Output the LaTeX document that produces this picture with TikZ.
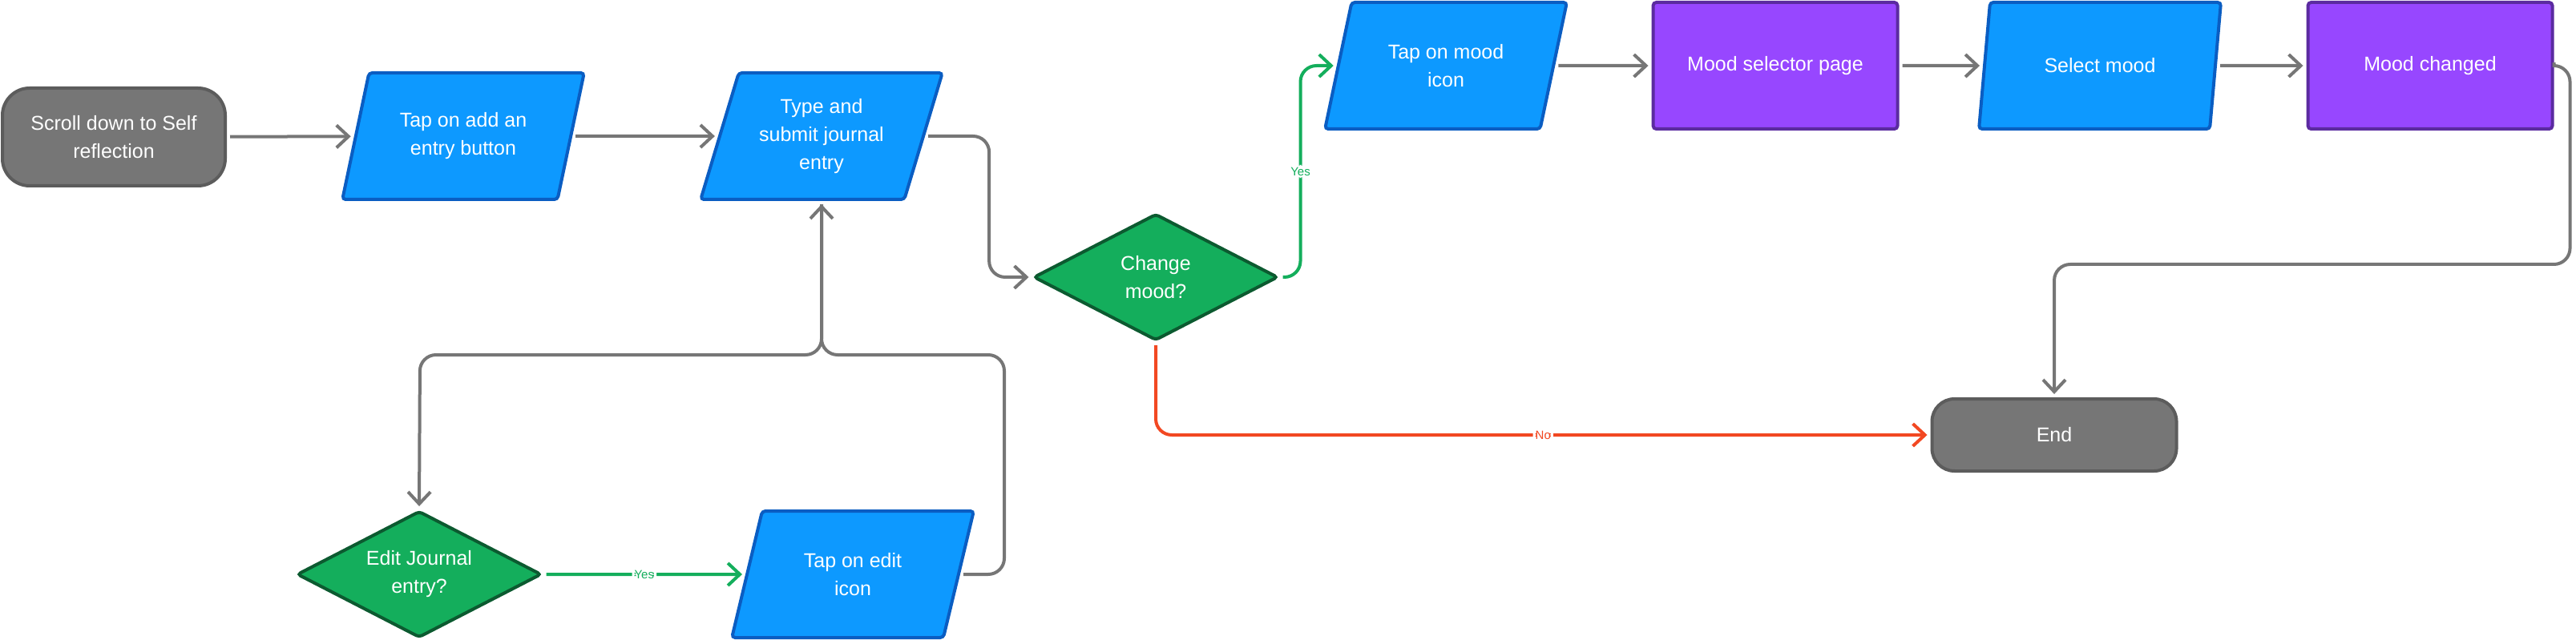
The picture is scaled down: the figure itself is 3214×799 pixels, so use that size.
\documentclass[tikz,border=0pt]{standalone}
\usepackage{fontspec}
\setmainfont{Liberation Sans}
\usetikzlibrary{shapes.geometric, arrows.meta, positioning}
\definecolor{iofill}{HTML}{0D99FF}
\definecolor{ioline}{HTML}{0A5DC2}
\definecolor{pagefill}{HTML}{9747FF}
\definecolor{pageline}{HTML}{5B2BA0}
\definecolor{askfill}{HTML}{14AE5C}
\definecolor{askline}{HTML}{0C5A30}
\definecolor{termfill}{HTML}{767676}
\definecolor{termline}{HTML}{5C5C5C}
\definecolor{flowgray}{HTML}{767676}
\definecolor{flowgreen}{HTML}{14AE5C}
\definecolor{flowred}{HTML}{F24822}
\begin{document}
\begin{tikzpicture}[x=1pt, y=-1pt,
  every node/.style={text=white, font=\fontsize{25}{35}\selectfont, align=center},
  term/.style={draw=termline, fill=termfill, line width=4pt, rounded corners=34pt, minimum width=278pt, minimum height=122pt},
  io/.style={trapezium, trapezium left angle=69, trapezium right angle=111, trapezium stretches=true, draw=ioline, fill=iofill, line width=4pt, rounded corners=4pt, minimum width=302pt, minimum height=158pt, inner sep=0pt},
  page/.style={rectangle, draw=pageline, fill=pagefill, line width=4pt, rounded corners=4pt, minimum width=305pt, minimum height=158pt},
  ask/.style={diamond, aspect=2, draw=askline, fill=askfill, line width=4pt, rounded corners=4pt, minimum width=305pt, minimum height=158pt, inner sep=0pt},
  flow/.style={draw=flowgray, line width=4pt, rounded corners=20pt, shorten >=4pt, shorten <=4pt, -{Straight Barb[length=15pt, width=28pt, line width=4pt]}},
  tag/.style={fill=white, inner sep=3pt, font=\fontsize{15}{18}\selectfont}
]
\useasboundingbox (0,0) rectangle (3214,799);

\node[term] (start) at (142,171) {Scroll down to Self\\reflection};
\node[io] (tapadd) at (578,170) {Tap on add an\\entry button};
\node[io] (type) at (1025,170) {Type and\\submit journal\\entry};
\node[ask] (mood) at (1442,346) {Change\\mood?};
\node[io] (tapmood) at (1804,82) {Tap on mood\\icon};
\node[page] (selpage) at (2215,82) {Mood selector page};
\node[io] (select) at (2620,82) {Select mood};
\node[page] (changed) at (3032,82) {Mood changed};
\node[term, minimum width=305pt, minimum height=90pt, rounded corners=28pt] (end) at (2563,543) {End};
\node[ask] (edit) at (523,717) {Edit Journal\\entry?};
\node[io] (tapedit) at (1064,717) {Tap on edit\\icon};

\coordinate (jleft) at (524,443);
\coordinate (jright) at (1253,443);

\draw[flow] (start) -- (tapadd);
\draw[flow] (tapadd) -- (type);
\draw[flow] (type.east) -- ++(80,0) |- (mood.west);
\draw[flow, draw=flowgreen] (mood.east) -- ++(26,0) |- (tapmood.west) node[tag, text=flowgreen, pos=0.25] {Yes};
\draw[flow] (tapmood) -- (selpage);
\draw[flow] (selpage) -- (select);
\draw[flow] (select) -- (changed);
\draw[flow] (changed.east) -- ++(20,0) -- ++(0,248) -| (end.north);
\draw[flow, draw=flowred] (mood.south) |- (end.west) node[tag, text=flowred, pos=0.75] {No};
\draw[flow] (type.south) |- (jleft) -- (edit.north);
\draw[flow, draw=flowgreen] (edit.east) -- (tapedit.west) node[tag, text=flowgreen, midway] {Yes};
\draw[flow] (tapedit.east) -| (jright) -| (type.south);
\end{tikzpicture}
\end{document}
